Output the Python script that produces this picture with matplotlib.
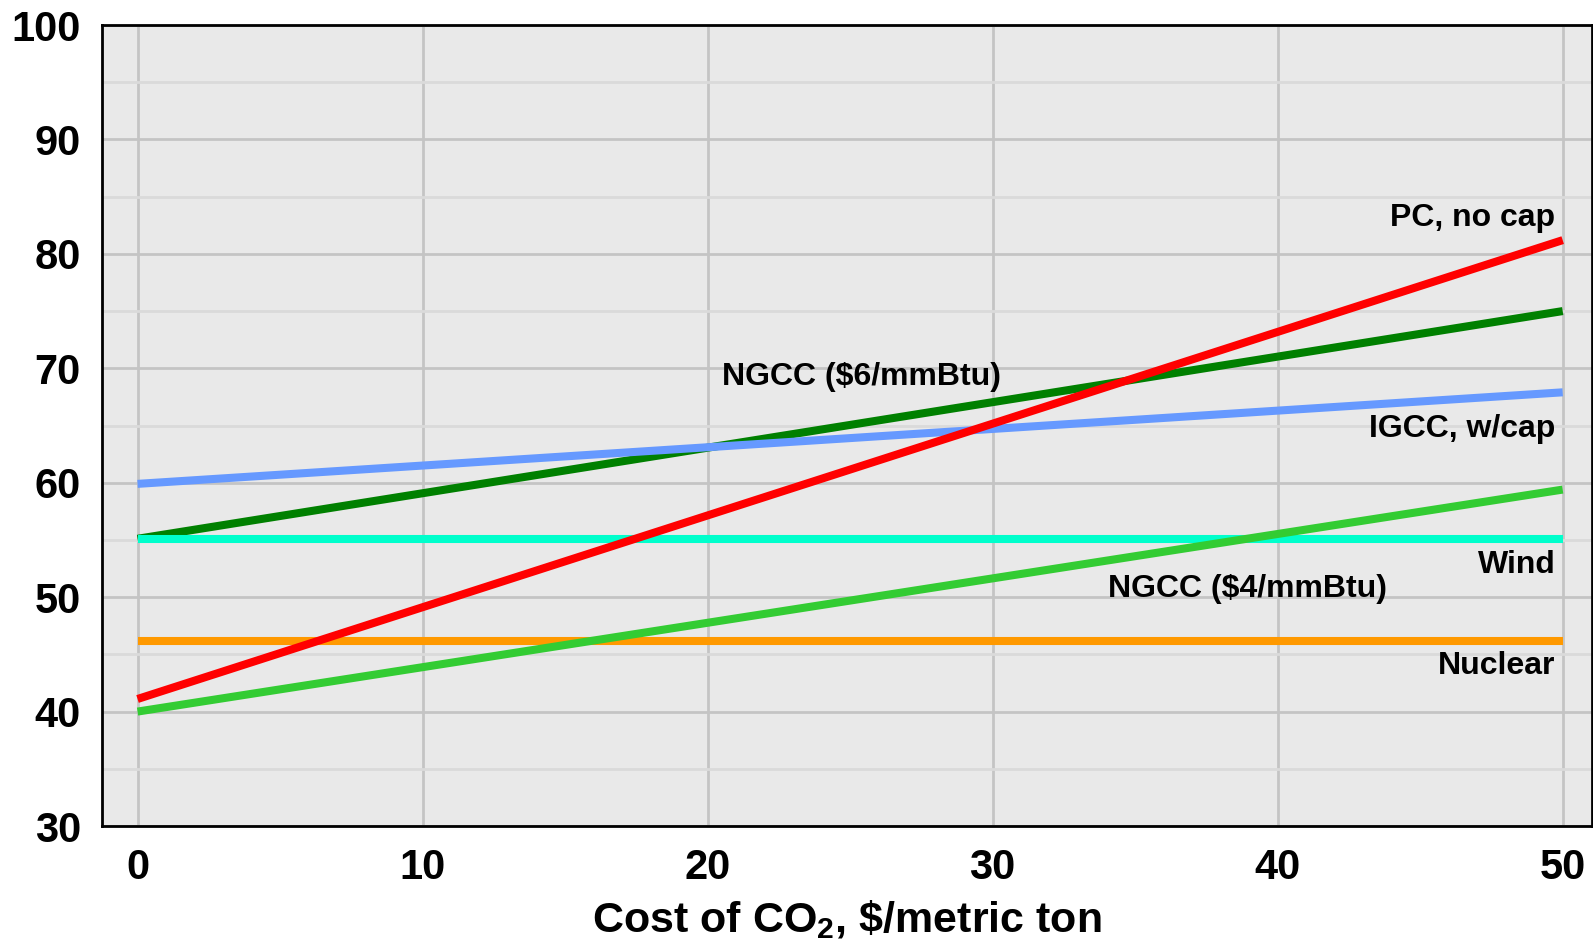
import numpy as np
import matplotlib.pyplot as plt
from matplotlib.ticker import MultipleLocator

plt.rcParams['font.family'] = ['Liberation Sans', 'DejaVu Sans']
plt.rcParams['font.weight'] = 'bold'
plt.rcParams['mathtext.fontset'] = 'custom'
plt.rcParams['mathtext.rm'] = 'Liberation Sans:bold'
plt.rcParams['mathtext.bf'] = 'Liberation Sans:bold'

# cost of CO2, $/metric ton
co2_cost = [0, 50]

# levelized cost for each technology at both ends
pc_no_cap = [41.1, 81.2]
ngcc_6 = [55.1, 75.0]
igcc_cap = [59.9, 67.9]
ngcc_4 = [40.0, 59.4]
wind = [55.1, 55.1]
nuclear = [46.2, 46.2]

series = [
    (ngcc_6, '#008000'),
    (igcc_cap, '#6699ff'),
    (wind, '#00ffcc'),
    (nuclear, '#ff9900'),
    (ngcc_4, '#33cc33'),
    (pc_no_cap, '#ff0000'),
]

fig = plt.figure(figsize=(15.93, 9.44), dpi=100)
ax = fig.add_axes([0.0638, 0.125, 0.9356, 0.8485])
ax.set_facecolor('#e9e9e9')

for vals, col in series:
    ax.plot(co2_cost, vals, color=col, lw=5.8, solid_capstyle='butt', zorder=3)

ax.set_xlim(-1.26, 51.03)
ax.set_ylim(30, 100)
ax.xaxis.set_major_locator(MultipleLocator(10))
ax.yaxis.set_major_locator(MultipleLocator(10))
ax.yaxis.set_minor_locator(MultipleLocator(5))
ax.grid(which='major', axis='both', color='#c4c4c4', lw=2.0, zorder=0)
ax.grid(which='minor', axis='y', color='#dadada', lw=2.0, zorder=0)
ax.tick_params(which='both', length=0)
ax.tick_params(axis='y', labelsize=30, pad=15)
ax.tick_params(axis='x', labelsize=30, pad=16)
for lab in ax.get_xticklabels() + ax.get_yticklabels():
    lab.set_fontweight('bold')
for sp in ax.spines.values():
    sp.set_linewidth(2.0)
    sp.set_color('black')

ax.set_xlabel('Cost of CO$_\\mathbf{2}$, \\$/metric ton', fontsize=31,
              fontweight='bold', labelpad=7)

lab_kw = dict(fontsize=23, fontweight='bold', va='center', zorder=4)
ax.text(49.75, 83.1, 'PC, no cap', ha='right', **lab_kw)
ax.text(49.75, 64.7, 'IGCC, w/cap', ha='right', **lab_kw)
ax.text(49.75, 52.8, 'Wind', ha='right', **lab_kw)
ax.text(49.75, 44.0, 'Nuclear', ha='right', **lab_kw)
ax.text(34.05, 50.7, 'NGCC (\\$4/mmBtu)', ha='left', **lab_kw)
ax.text(20.5, 69.25, 'NGCC (\\$6/mmBtu)', ha='left', **lab_kw)

fig.savefig('out.png', dpi=100)
